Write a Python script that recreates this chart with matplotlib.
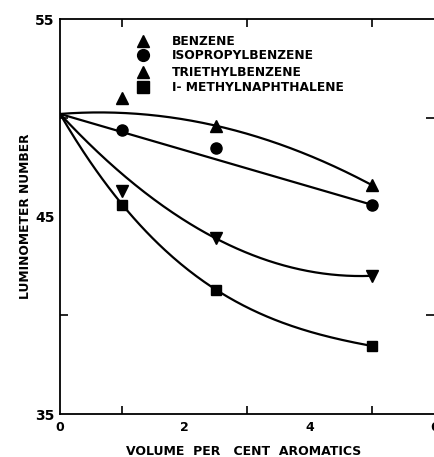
import numpy as np
import matplotlib
matplotlib.use("Agg")
import matplotlib.pyplot as plt
from matplotlib.ticker import FixedLocator, NullFormatter

# ---- data ----
x_vals = [0, 1, 2.5, 5]
benzene = [50.2, 51.0, 49.6, 46.6]
isopropylbenzene = [50.2, 49.4, 48.5, 45.6]
triethylbenzene = [50.2, 46.3, 43.9, 42.0]
methylnaphthalene = [50.2, 45.6, 41.3, 38.45]

series_names = ["BENZENE", "ISOPROPYLBENZENE", "TRIETHYLBENZENE", "I- METHYLNAPHTHALENE"]
x_ticks_major = [0, 2, 4, 6]
x_ticks_minor = [1, 3, 5]
y_ticks_major = [35, 45, 55]
y_ticks_minor = [40, 50]

plt.rcParams['font.family'] = ['DejaVu Sans']
fig = plt.figure(figsize=(4.35, 4.57), dpi=100)
ax = fig.add_axes([0.138, 0.094, 0.86, 0.864])

xs = np.array(x_vals, dtype=float)
xf = np.linspace(0, 5, 200)

def fit_curve(y, deg, w=None):
    c = np.polyfit(xs, np.array(y, dtype=float), deg, w=w)
    return np.polyval(c, xf)

lw = 1.6
# fitted smooth curves (regressions through the measured points)
ax.plot(xf, fit_curve(benzene, 2, w=[20, 0.5, 5, 5]), color='black', lw=lw)
ax.plot(xf, fit_curve(isopropylbenzene, 1, w=[20, 1, 0.3, 5]), color='black', lw=lw)
ax.plot(xf, fit_curve(triethylbenzene, 2, w=[20, 0.5, 5, 5]), color='black', lw=lw)
ax.plot(xf, fit_curve(methylnaphthalene, 3), color='black', lw=lw)

ms = 8
ax.plot(xs[1:], benzene[1:], linestyle='none', marker='^', color='black', ms=ms)
ax.plot(xs[1:], isopropylbenzene[1:], linestyle='none', marker='o', color='black', ms=ms)
ax.plot(xs[1:], triethylbenzene[1:], linestyle='none', marker='v', color='black', ms=ms)
ax.plot(xs[1:], methylnaphthalene[1:], linestyle='none', marker='s', color='black', ms=ms - 0.5)

# legend drawn as text + markers in axes coords
leg_markers = ['^', 'o', '^', 's']
leg_y = [0.944, 0.909, 0.865, 0.828]
for name, m, yy in zip(series_names, leg_markers, leg_y):
    ax.plot([0.222], [yy], transform=ax.transAxes, marker=m, color='black', ms=8.5 if m != 's' else 8,
            linestyle='none', clip_on=False)
    ax.text(0.298, yy, name, transform=ax.transAxes, fontsize=8.8, fontweight='bold',
            va='center', ha='left')

ax.set_xlim(0, 6)
ax.set_ylim(35, 55)

ax.xaxis.set_major_locator(FixedLocator(x_ticks_major))
ax.xaxis.set_minor_locator(FixedLocator(x_ticks_minor))
ax.yaxis.set_major_locator(FixedLocator(y_ticks_major))
ax.yaxis.set_minor_locator(FixedLocator(y_ticks_minor))
ax.yaxis.set_minor_formatter(NullFormatter())
ax.xaxis.set_minor_formatter(NullFormatter())

ax.tick_params(axis='both', which='both', direction='in', width=1.2, length=6,
               top=True, right=True, pad=5)
ax.tick_params(axis='x', which='major', bottom=False, top=False, labelsize=9, pad=5)
ax.tick_params(axis='y', which='major', length=0, labelsize=10, pad=4)
for lab in ax.get_xticklabels() + ax.get_yticklabels():
    lab.set_fontweight('bold')

ax.spines['right'].set_visible(False)
for s in ['left', 'top', 'bottom']:
    ax.spines[s].set_linewidth(1.3)

ax.set_xlabel("VOLUME  PER   CENT  AROMATICS", fontsize=9, fontweight='bold')
ax.xaxis.set_label_coords(0.492, -0.078)
ax.set_ylabel("LUMINOMETER NUMBER", fontsize=8.8, fontweight='bold')
ax.yaxis.set_label_coords(-0.075, 0.5)

fig.savefig("out.png", dpi=100)
